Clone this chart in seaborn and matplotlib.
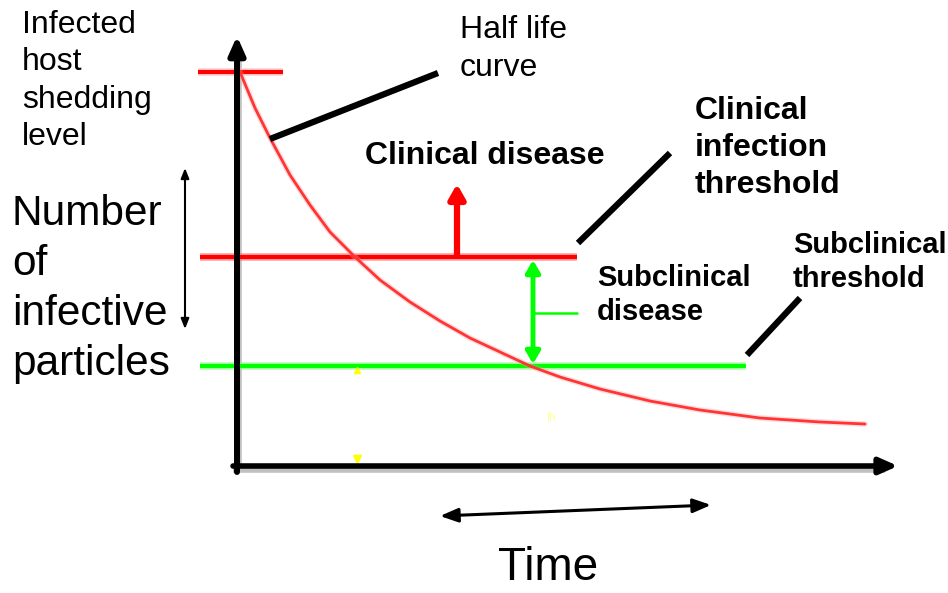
import seaborn as sns
import matplotlib.pyplot as plt

sns.set_theme(style="white")
plt.rcParams['font.family'] = ['Liberation Sans', 'DejaVu Sans']
plt.rcParams['text.color'] = 'black'

# half life curve (pixel space of the drawing)
curve_x = [240, 255, 270, 290, 310, 330, 355, 380, 410, 440, 470, 500, 530, 560, 600, 650, 700, 760, 820, 865]
curve_y = [72, 108, 138, 175, 205, 232, 257, 280, 302, 321, 338, 352, 366, 377, 389, 401, 410, 418, 422, 424]

# threshold levels: start level, clinical, subclinical
level_y = [72, 257, 366]
level_x0 = [198, 200, 200]
level_x1 = [283, 577, 746]
level_col = ['#ff0000', '#ff0000', '#00ff00']
halo_col = ['#ffb3b3', '#ff6666', '#80ff80']

# black pointer lines (label leaders)
leaders = [((270, 139), (438, 73)), ((578, 243), (670, 153)), ((747, 355), (800, 298))]

fig = plt.figure(figsize=(9.48, 5.93), dpi=100)
ax = fig.add_axes([0, 0, 1, 1])

# axes of the diagram
ax.plot([239, 239], [470, 50], color='#c0c0c0', lw=4, solid_capstyle='butt')
ax.plot([233, 885], [470, 470], color='#c0c0c0', lw=4, solid_capstyle='butt')
ax.annotate('', xy=(237, 36), xytext=(237, 472),
            arrowprops=dict(arrowstyle='-|>,head_length=0.9,head_width=0.4', color='black', lw=4.3,
                            shrinkA=0, shrinkB=0))
ax.annotate('', xy=(898, 466), xytext=(233, 466),
            arrowprops=dict(arrowstyle='-|>,head_length=0.9,head_width=0.4', color='black', lw=4,
                            shrinkA=0, shrinkB=0))

# threshold lines with soft halo
for y, x0, x1, c, h in zip(level_y, level_x0, level_x1, level_col, halo_col):
    ax.plot([x0, x1], [y, y], color=h, lw=5.5, solid_capstyle='butt', alpha=0.6)
    ax.plot([x0, x1], [y, y], color=c, lw=3, solid_capstyle='butt')

# decay curve
sns.lineplot(x=curve_x, y=curve_y, ax=ax, color='#ff0000', lw=2, sort=False)
ax.plot(curve_x, curve_y, color='#ff9999', lw=4, alpha=0.35)

# leaders
for (a, b) in leaders:
    ax.plot([a[0], b[0]], [a[1], b[1]], color='black', lw=4.5, solid_capstyle='butt')

# clinical disease arrow (up)
ax.annotate('', xy=(457, 184), xytext=(457, 255),
            arrowprops=dict(arrowstyle='-|>,head_length=0.7,head_width=0.4', color='#ff0000', lw=4.5,
                            shrinkA=0, shrinkB=0))
# subclinical double arrow
ax.annotate('', xy=(533, 260), xytext=(533, 364),
            arrowprops=dict(arrowstyle='<|-|>,head_length=0.6,head_width=0.35', color='#00ff00', lw=3.5,
                            shrinkA=0, shrinkB=0))
ax.plot([533, 577], [313, 313], color='#00ff00', lw=1.8)

# thin double arrows
ax.annotate('', xy=(185, 168), xytext=(185, 329),
            arrowprops=dict(arrowstyle='<|-|>,head_length=0.5,head_width=0.2', color='black', lw=1.5,
                            shrinkA=0, shrinkB=0))
ax.annotate('', xy=(440, 516), xytext=(711, 505),
            arrowprops=dict(arrowstyle='<|-|>,head_length=0.9,head_width=0.35', color='black', lw=2.2,
                            shrinkA=0, shrinkB=0))

# small yellow marks
ax.plot([357], [370], marker='^', color='#ffff00', ms=5)
ax.plot([357], [459], marker='v', color='#ffff00', ms=6)
ax.text(551, 418, 'lh', color='#ffff99', fontsize=9, ha='center', va='center')

# labels
ax.text(22, 81, 'Infected\nhost\nshedding\nlevel', fontsize=23, ha='left', va='center', linespacing=1.31)
ax.text(460, 49, 'Half life\ncurve', fontsize=23, ha='left', va='center', linespacing=1.31)
ax.text(365, 156, 'Clinical disease', fontsize=23, fontweight='bold', ha='left', va='center')
ax.text(695, 148, 'Clinical\ninfection\nthreshold', fontsize=23, fontweight='bold',
        ha='left', va='center', linespacing=1.3)
ax.text(793, 262, 'Subclinical\nthreshold', fontsize=21, fontweight='bold',
        ha='left', va='center', linespacing=1.29)
ax.text(597, 295, 'Subclinical\ndisease', fontsize=21, fontweight='bold',
        ha='left', va='center', linespacing=1.29)
ax.text(12, 289, 'Number\nof\ninfective\nparticles', fontsize=30.5, ha='left', va='center', linespacing=1.33)
ax.text(548, 568, 'Time', fontsize=33, ha='center', va='center')

ax.set_xlim(0, 948)
ax.set_ylim(593, 0)
ax.axis('off')
fig.savefig('out.png', dpi=100)
